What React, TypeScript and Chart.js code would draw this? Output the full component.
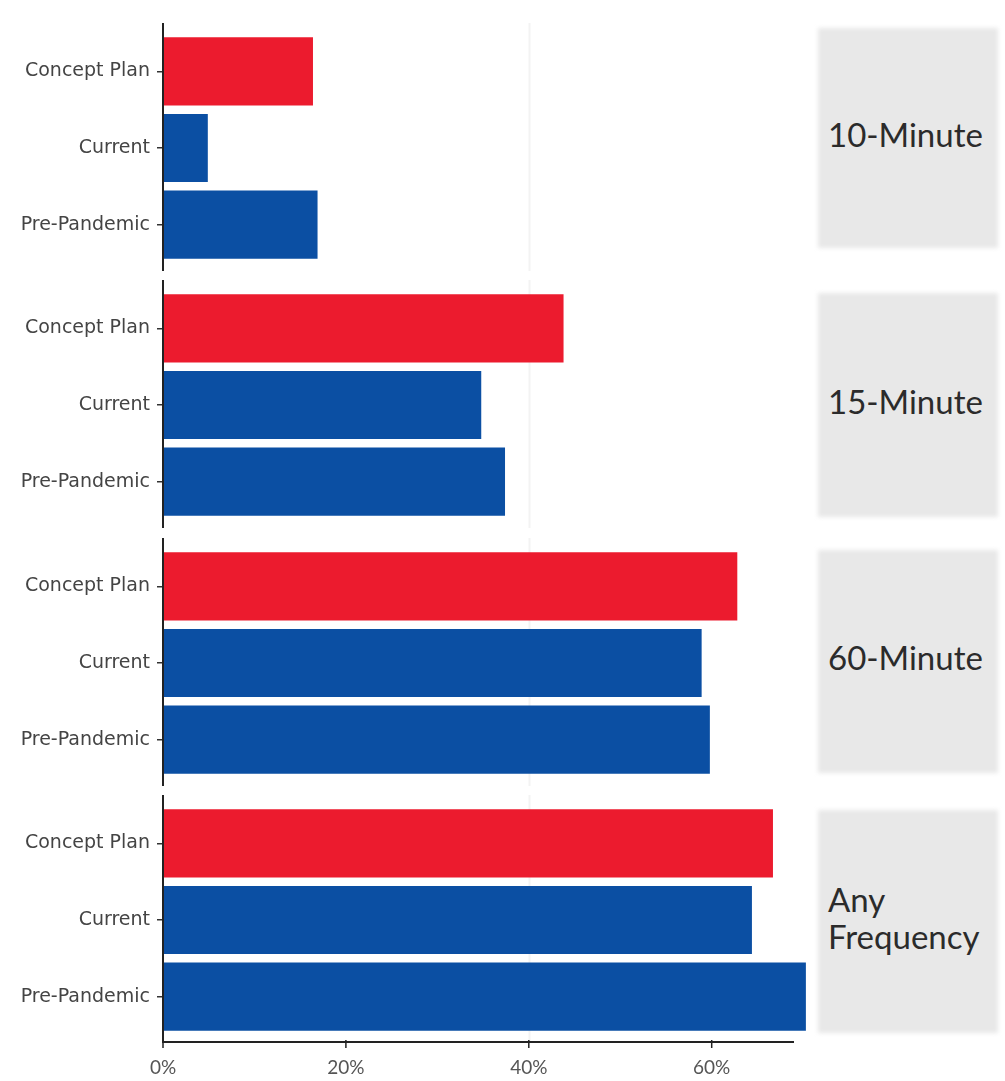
import React, { useEffect, useRef } from "react";
import { Chart, registerables } from "chart.js";

Chart.register(...registerables);

const categories = ["Concept Plan", "Current", "Pre-Pandemic"];
const groupLabels = ["10-Minute", "15-Minute", "60-Minute", "Any Frequency"];
const tenMinute = [16.4, 4.9, 16.9];
const fifteenMinute = [43.8, 34.8, 37.4];
const sixtyMinute = [62.8, 58.9, 59.8];
const anyFrequency = [66.7, 64.4, 70.3];
const xTicks = [0, 20, 40, 60];
const xMax = 69;
const gridValue = 40;

const groupValues = [tenMinute, fifteenMinute, sixtyMinute, anyFrequency];

const RED = "#EC1B2E";
const BLUE = "#0B4FA3";
const barColors = [RED, BLUE, BLUE];

// layout (pixels)
const AREA_TOPS = [33, 290, 548, 805];
const AREA_H = 230;
const PAD_TOP = 12;
const CANVAS_W = 815;
const AXIS_LEFT = 163;
const BOXES = [
  [28, 248],
  [293, 517],
  [550, 773],
  [810, 1033],
];

function Panel({ index }: { index: number }) {
  const ref = useRef<HTMLCanvasElement | null>(null);
  const isLast = index === groupValues.length - 1;
  const bottomPad = isLast ? 46 : 10;
  const height = PAD_TOP + AREA_H + bottomPad;

  useEffect(() => {
    if (!ref.current) return;
    const axisPlugin = {
      id: "customAxes",
      beforeDatasetsDraw(chart: any) {
        const { ctx, chartArea, scales } = chart;
        const gx = Math.round(scales.x.getPixelForValue(gridValue)) + 0.5;
        ctx.save();
        ctx.strokeStyle = "#f3f3f3";
        ctx.lineWidth = 2;
        ctx.beginPath();
        ctx.moveTo(gx, chartArea.top - 10);
        ctx.lineTo(gx, chartArea.bottom + 8);
        ctx.stroke();
        ctx.restore();
      },
      afterDraw(chart: any) {
        const { ctx, chartArea, scales } = chart;
        ctx.save();
        ctx.strokeStyle = "#222222";
        ctx.lineWidth = 2;
        ctx.beginPath();
        ctx.moveTo(chartArea.left, chartArea.top - 10);
        ctx.lineTo(chartArea.left, chartArea.bottom + 8);
        ctx.stroke();
        if (isLast) {
          const y = chartArea.bottom + 7;
          ctx.beginPath();
          ctx.moveTo(chartArea.left, y);
          ctx.lineTo(chartArea.right, y);
          ctx.stroke();
          ctx.lineWidth = 1.5;
          xTicks.forEach((v) => {
            const x = scales.x.getPixelForValue(v);
            ctx.beginPath();
            ctx.moveTo(x, y - 2);
            ctx.lineTo(x, y + 6);
            ctx.stroke();
          });
        }
        ctx.restore();
      },
    };

    const xScale: any = {
      display: isLast,
      min: 0,
      max: xMax,
      afterBuildTicks(scale: any) {
        scale.ticks = xTicks.map((v) => ({ value: v }));
      },
      grid: { display: false },
      border: { display: false },
      ticks: {
        padding: 13,
        color: "#555555",
        font: { family: "Lato", size: 19 },
        callback: (v: any) => v + "%",
      },
    };
    if (isLast) {
      xScale.afterFit = (scale: any) => {
        scale.height = bottomPad;
        scale.paddingLeft = 0;
        scale.paddingRight = 0;
      };
    }

    const chart = new Chart(ref.current, {
      type: "bar",
      data: {
        labels: categories,
        datasets: [
          {
            data: groupValues[index],
            backgroundColor: barColors,
            borderWidth: 0,
            barPercentage: 0.89,
            categoryPercentage: 1,
            clip: false as any,
          },
        ],
      },
      options: {
        indexAxis: "y",
        responsive: false,
        animation: false,
        layout: {
          padding: {
            top: PAD_TOP,
            bottom: isLast ? 0 : bottomPad,
            right: CANVAS_W - Math.round(AXIS_LEFT + xMax * 9.15),
            left: 0,
          },
        },
        plugins: { legend: { display: false }, tooltip: { enabled: false } },
        scales: {
          x: xScale,
          y: {
            afterFit(scale: any) {
              scale.width = AXIS_LEFT;
              scale.paddingTop = 0;
              scale.paddingBottom = 0;
            },
            grid: {
              offset: false,
              drawOnChartArea: false,
              drawTicks: true,
              tickLength: 6,
              color: "#333333",
              lineWidth: 1.5,
            },
            border: { display: false },
            ticks: {
              padding: 7,
              color: "#444444",
              font: { family: "DejaVu Sans", size: 19 },
            },
          },
        },
      },
      plugins: [axisPlugin],
    });
    return () => chart.destroy();
  }, [index]);

  return (
    <canvas
      ref={ref}
      width={CANVAS_W}
      height={height}
      style={{
        position: "absolute",
        left: 0,
        top: AREA_TOPS[index] - PAD_TOP,
        width: CANVAS_W,
        height,
      }}
    />
  );
}

export default function App() {
  return (
    <div
      style={{
        position: "absolute",
        left: 0,
        top: 0,
        width: 1005,
        height: 1081,
        background: "#ffffff",
        overflow: "hidden",
      }}
    >
      {BOXES.map(([t, b], i) => (
        <React.Fragment key={i}>
          <div
            style={{
              position: "absolute",
              left: 818,
              top: t,
              width: 180,
              height: b - t,
              background: "#e8e8e8",
              filter: "blur(2px)",
            }}
          />
          <div
            style={{
              position: "absolute",
              left: 828,
              top: t,
              width: 177,
              height: b - t - 8,
              display: "flex",
              alignItems: "center",
              fontFamily: "Lato",
              fontSize: 33,
              lineHeight: "37px",
              color: "#2b2b2b",
            }}
          >
            <span style={{ maxWidth: 172 }}>{groupLabels[i]}</span>
          </div>
        </React.Fragment>
      ))}
      {groupValues.map((_, i) => (
        <Panel key={i} index={i} />
      ))}
    </div>
  );
}
